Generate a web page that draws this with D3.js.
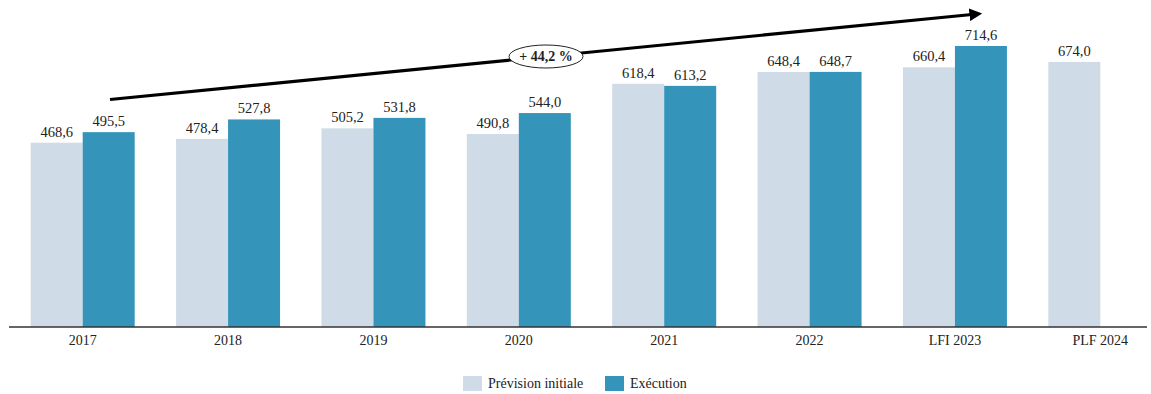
<!DOCTYPE html>
<html>
<head>
<meta charset="utf-8">
<script src="https://cdn.jsdelivr.net/npm/d3@7"></script>
<style>
  body { margin: 0; background: #fff; }
  svg text { font-family: "Liberation Serif", "Times New Roman", serif !important; fill: #222; }
</style>
</head>
<body>
<svg id="chart"></svg>
<script>
// data
const categories = ["2017", "2018", "2019", "2020", "2021", "2022", "LFI 2023", "PLF 2024"];
const seriesNames = ["Prévision initiale", "Exécution"];
const prevision = [468.6, 478.4, 505.2, 490.8, 618.4, 648.4, 660.4, 674.0];
const execution = [495.5, 527.8, 531.8, 544.0, 613.2, 648.7, 714.6, null];
const growthLabel = "+ 44,2 %";
const colors = ["#cfdbe6", "#3594ba"];

const width = 1151, height = 394;
const baseline = 327;

const svg = d3.select("#chart").attr("width", width).attr("height", height);

const x = d3.scaleBand().domain(categories).range([10, 1173]).padding(0);
const sub = d3.scaleBand().domain(seriesNames).range([0, 104]);
const y = d3.scaleLinear().domain([0, 800]).range([baseline, baseline - 314.6]);

const fmt = v => d3.format(".1f")(v).replace(".", ",");

const rows = categories.map((c, i) => ({ cat: c, vals: [prevision[i], execution[i]] }));

const groups = svg.selectAll(".grp")
  .data(rows)
  .enter()
  .append("g")
  .attr("class", "grp")
  .attr("transform", d => `translate(${x(d.cat) + x.bandwidth() / 2 - 52},0)`);

const cells = groups.selectAll(".bar")
  .data(d => d.vals.map((v, j) => ({ key: seriesNames[j], v, j })).filter(e => e.v != null))
  .enter();

cells.append("rect")
  .attr("class", "bar")
  .attr("x", d => sub(d.key))
  .attr("y", d => y(d.v))
  .attr("width", sub.bandwidth())
  .attr("height", d => baseline - y(d.v))
  .attr("fill", d => colors[d.j]);

cells.append("text")
  .attr("x", d => sub(d.key) + sub.bandwidth() / 2)
  .attr("y", d => y(d.v) - 6)
  .attr("text-anchor", "middle")
  .style("font-size", "14.5px")
  .text(d => fmt(d.v));

// x axis
const xAxis = d3.axisBottom(x).tickSize(0).tickPadding(8);
const xAxisG = svg.append("g")
  .attr("transform", `translate(0,${baseline})`)
  .call(xAxis);
xAxisG.select(".domain").attr("d", "M9,0H1147").attr("stroke", "#333").attr("stroke-width", 1.5);
xAxisG.selectAll("text").style("font-size", "14px").attr("fill", "#222");

// growth arrow
svg.append("defs").append("marker")
  .attr("id", "arrow")
  .attr("viewBox", "0 0 10 10")
  .attr("refX", 2).attr("refY", 5)
  .attr("markerWidth", 4).attr("markerHeight", 4)
  .attr("orient", "auto")
  .append("path").attr("d", "M0,0L10,5L0,10z").attr("fill", "#000");

const x0 = 110, y0 = 99.5, x1 = 972, y1 = 14.5;
svg.append("line")
  .attr("x1", x0).attr("y1", y0).attr("x2", x1).attr("y2", y1)
  .attr("stroke", "#000").attr("stroke-width", 3.2)
  .attr("marker-end", "url(#arrow)");

const ex = 546, ey = y0 + (ex - x0) * (y1 - y0) / (x1 - x0);
svg.append("ellipse")
  .attr("cx", ex).attr("cy", ey).attr("rx", 37).attr("ry", 11.5)
  .attr("fill", "#fff").attr("stroke", "#222").attr("stroke-width", 1);
svg.append("text")
  .attr("x", ex).attr("y", ey + 4.5)
  .attr("text-anchor", "middle")
  .style("font-size", "14px").style("font-weight", "bold")
  .text(growthLabel);

// legend
const legendPos = [463, 605];
const legend = svg.selectAll(".leg")
  .data(seriesNames)
  .enter()
  .append("g")
  .attr("class", "leg")
  .attr("transform", (d, i) => `translate(${legendPos[i]},376)`);
legend.append("rect").attr("width", 19).attr("height", 15).attr("fill", (d, i) => colors[i]);
legend.append("text").attr("x", 25).attr("y", 12).style("font-size", "14px").text(d => d);
</script>
</body>
</html>
